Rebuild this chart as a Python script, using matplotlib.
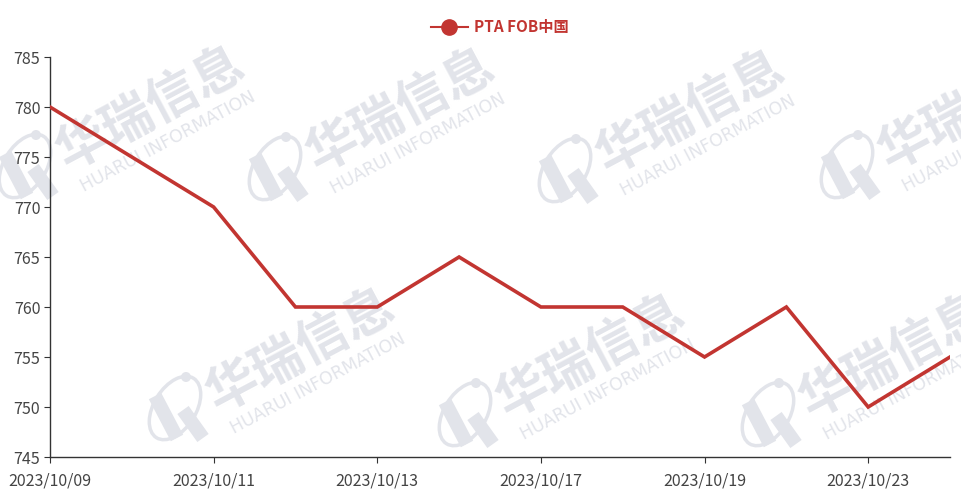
import matplotlib.pyplot as plt
from matplotlib.lines import Line2D
from matplotlib.patches import Ellipse, Circle
from matplotlib.transforms import IdentityTransform

plt.rcParams['font.family'] = ['Noto Sans CJK SC', 'DejaVu Sans']

dates = ['2023/10/09', '2023/10/10', '2023/10/11', '2023/10/12', '2023/10/13', '2023/10/16',
         '2023/10/17', '2023/10/18', '2023/10/19', '2023/10/20', '2023/10/23', '2023/10/24']
prices = [780, 775, 770, 760, 760, 765, 760, 760, 755, 760, 750, 755]
series_name = 'PTA FOB中国'

red = '#c23531'
axis_col = '#333333'
W, H = 961, 497

fig = plt.figure(figsize=(W / 100, H / 100), dpi=100)
ax = fig.add_axes([50 / W, 1 - 457 / H, 900 / W, 400 / H])

# watermark (pixel positions, origin top-left)
wm_col = '#e2e4ea'
pix = IdentityTransform()
wm_spots = [(150, 108), (400, 110), (690, 112), (972, 108),
            (300, 350), (590, 356), (893, 356)]


def watermark(cx, cy):
    y = H - cy
    fig.text(cx, y, '华瑞信息', transform=pix, fontsize=37, color=wm_col, rotation=28,
             ha='center', va='center', fontweight='bold', zorder=-5)
    fig.text(cx + 18, y - 34, 'HUARUI INFORMATION', transform=pix, fontsize=12.5,
             color=wm_col, rotation=28, ha='center', va='center',
             family='DejaVu Sans', zorder=-5)
    lx, ly = cx - 125, y - 58
    fig.patches.append(Ellipse((lx, ly), 42, 70, angle=-32, transform=pix, fill=False,
                               ec=wm_col, lw=2.5, zorder=-5))
    fig.patches.append(Circle((lx + 11, ly + 31), 5, transform=pix, fc=wm_col,
                              ec='none', zorder=-5))
    # two slanted bars of the "H" mark
    fig.lines.append(Line2D([lx - 20, lx + 2], [ly + 12, ly - 30], transform=pix,
                            color=wm_col, lw=10, solid_capstyle='butt', zorder=-5))
    fig.lines.append(Line2D([lx + 8, lx + 28], [ly - 2, ly - 30], transform=pix,
                            color=wm_col, lw=10, solid_capstyle='butt', zorder=-5))


for cx, cy in wm_spots:
    watermark(cx, cy)

x = list(range(len(dates)))
ax.plot(x, prices, color=red, lw=2.6, zorder=3, solid_joinstyle='miter')

ax.set_xlim(0, len(dates) - 1)
ax.set_ylim(745, 785)
ax.set_yticks(range(745, 786, 5))
ax.set_xticks(x[::2])
ax.set_xticklabels(dates[::2])

ax.patch.set_alpha(0)
for s in ['top', 'right']:
    ax.spines[s].set_visible(False)
for s in ['left', 'bottom']:
    ax.spines[s].set_color(axis_col)
    ax.spines[s].set_linewidth(1)
ax.tick_params(axis='both', colors=axis_col, labelcolor='#444444', labelsize=11.5, length=4)
ax.tick_params(axis='x', pad=7)
ax.tick_params(axis='y', pad=3)

handle = Line2D([], [], color=red, lw=1.5, marker='o', markersize=11)
leg = fig.legend([handle], [series_name], loc='center', bbox_to_anchor=(0.52, 0.945),
                 frameon=False, handlelength=2.4, fontsize=11, handletextpad=0.4)
for t in leg.get_texts():
    t.set_color(red)
    t.set_fontweight('bold')

fig.savefig('out.png', dpi=100)
